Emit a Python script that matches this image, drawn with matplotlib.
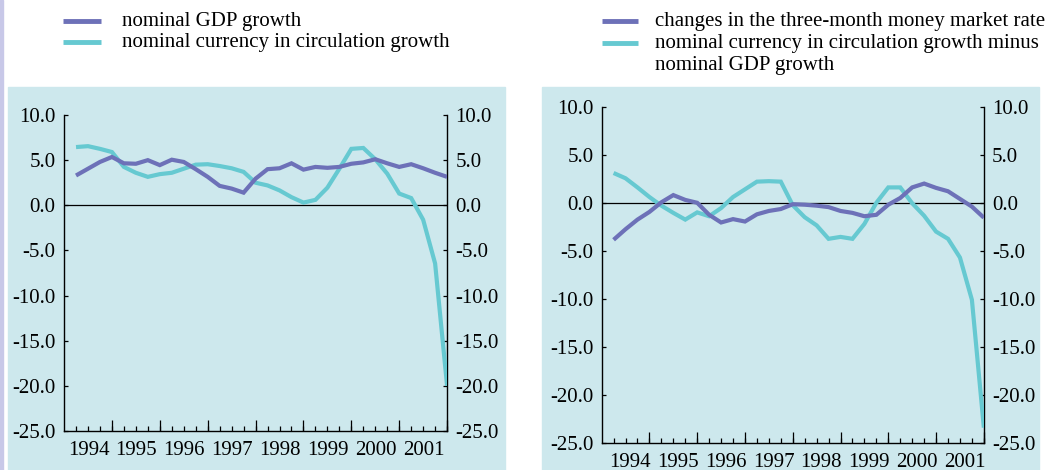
import numpy as np
import matplotlib
matplotlib.use("Agg")
import matplotlib.pyplot as plt
from matplotlib.patches import Rectangle
from matplotlib.lines import Line2D
from matplotlib.ticker import FormatStrFormatter

plt.rcParams["font.family"] = ["Liberation Serif", "DejaVu Serif"]
plt.rcParams["axes.unicode_minus"] = False

# quarterly data 1994Q1 - 2001Q4
years = ["1994", "1995", "1996", "1997", "1998", "1999", "2000", "2001"]

gdp_growth = [3.3, 4.05, 4.8, 5.35, 4.65, 4.6, 5.0, 4.45, 5.05, 4.8, 4.0, 3.15,
              2.15, 1.85, 1.4, 2.95, 4.0, 4.1, 4.65, 3.95, 4.25, 4.15, 4.25, 4.6,
              4.75, 5.1, 4.65, 4.25, 4.55, 4.1, 3.6, 3.15]
currency_growth = [6.45, 6.55, 6.25, 5.9, 4.25, 3.6, 3.15, 3.45, 3.6, 4.05, 4.5, 4.55,
                   4.35, 4.1, 3.7, 2.5, 2.2, 1.65, 0.9, 0.3, 0.6, 1.95, 4.05, 6.25,
                   6.35, 5.1, 3.5, 1.3, 0.8, -1.6, -6.45, -20.0]

rate_change = [-3.85, -2.75, -1.75, -0.95, 0.05, 0.8, 0.3, 0.0, -1.25, -2.05, -1.7, -1.95,
               -1.2, -0.85, -0.65, -0.15, -0.2, -0.3, -0.45, -0.85, -1.05, -1.4, -1.25, -0.2,
               0.5, 1.6, 2.0, 1.55, 1.2, 0.4, -0.4, -1.55]
currency_minus_gdp = [3.1, 2.55, 1.6, 0.6, -0.3, -1.05, -1.75, -1.0, -1.4, -0.55, 0.6, 1.4,
                      2.2, 2.25, 2.2, -0.25, -1.5, -2.35, -3.75, -3.55, -3.75, -2.2, 0.0, 1.6,
                      1.6, -0.05, -1.35, -3.0, -3.75, -5.7, -10.1, -23.4]

purple = "#6D71B8"
cyan = "#66C9D1"
bg = "#CDE8ED"
fs = 15

fig = plt.figure(figsize=(10.5, 4.7), dpi=100)

# panel backgrounds and the thin strip on the left edge
fig.patches.append(Rectangle((0.0076, 0), 0.4733, 0.815, transform=fig.transFigure,
                             color=bg, zorder=-5))
fig.patches.append(Rectangle((0.516, 0), 0.4735, 0.815, transform=fig.transFigure,
                             color=bg, zorder=-5))
fig.patches.append(Rectangle((0, 0), 0.0025, 1, transform=fig.transFigure,
                             color="#C8C8E8", zorder=-5))


def setup(ax, s1, s2, c1, c2, label_off):
    x = np.arange(len(s1))
    ax.patch.set_alpha(0)
    ax.plot(x, s2, color=c2, lw=3, solid_joinstyle="miter", solid_capstyle="butt", zorder=3)
    ax.plot(x, s1, color=c1, lw=3, solid_joinstyle="miter", solid_capstyle="butt", zorder=4)
    ax.axhline(0, color="black", lw=0.9, zorder=2)
    ax.set_xlim(-1, len(s1) - 1)
    ax.set_ylim(-25, 10)
    ax.spines["top"].set_visible(False)
    for sp in ["left", "right", "bottom"]:
        ax.spines[sp].set_linewidth(1.0)
    ax.set_yticks(np.arange(-25, 10.1, 5))
    ax.yaxis.set_major_formatter(FormatStrFormatter("%.1f"))
    ax.tick_params(axis="y", which="both", direction="in", length=3, width=0.9,
                   left=True, right=True, labelleft=True, labelright=True,
                   labelsize=fs, pad=6)
    # year labels
    ax.set_xticks(np.arange(len(years)) * 4 + label_off)
    ax.set_xticklabels(years)
    ax.tick_params(axis="x", which="major", length=0, labelsize=fs, pad=7)
    ax.set_xticks(x, minor=True)
    ax.tick_params(axis="x", which="minor", direction="in", length=3.5, width=0.9)
    # longer ticks at year ends
    sec = ax.secondary_xaxis("bottom")
    sec.set_xticks(np.arange(len(years)) * 4 + 3)
    sec.tick_params(direction="in", length=8, width=0.9, labelbottom=False)
    sec.spines["bottom"].set_visible(False)


ax1 = fig.add_axes([0.061, 0.083, 0.3648, 0.6723])
setup(ax1, gdp_growth, currency_growth, purple, cyan, 1.05)

ax2 = fig.add_axes([0.573, 0.0574, 0.364, 0.7156])
setup(ax2, rate_change, currency_minus_gdp, purple, cyan, 1.4)

# legends
def legend_row(x0, x1, xt, y, color, text):
    fig.add_artist(Line2D([x0, x1], [y, y], transform=fig.transFigure, color=color,
                          lw=3.5, solid_capstyle="butt"))
    fig.text(xt, y, text, fontsize=fs, va="center", ha="left")

legend_row(0.060, 0.096, 0.1162, 0.9553, purple, "nominal GDP growth")
legend_row(0.060, 0.096, 0.1162, 0.9106, cyan, "nominal currency in circulation growth")

legend_row(0.5733, 0.6076, 0.6238, 0.9553, purple, "changes in the three-month money market rate")
legend_row(0.5733, 0.6076, 0.6238, 0.9085, cyan, "nominal currency in circulation growth minus")
fig.text(0.6238, 0.8617, "nominal GDP growth", fontsize=fs, va="center", ha="left")

fig.savefig("out.png", dpi=100)
